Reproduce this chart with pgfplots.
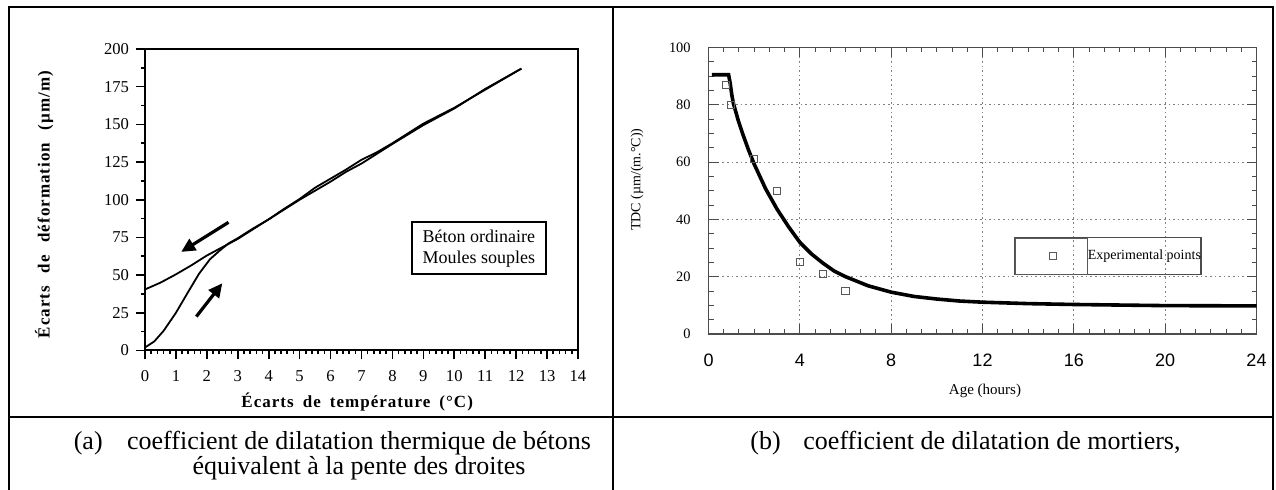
\documentclass[border=0pt]{standalone}
\usepackage{fontspec}
\setmainfont{Liberation Serif}
\setsansfont{Liberation Sans}
\newfontfamily\lblfont{Liberation Serif}[LetterSpace=6.0]
\usepackage{pgfplots}
\pgfplotsset{compat=1.18}
\usetikzlibrary{arrows.meta}

% heating / cooling branches (a)
\pgfplotstableread{
x y
0 2
0.3 6
0.6 13
1 25
1.4 39
1.75 51
2.1 60.5
2.4 66
2.7 71
3 74.5
3.5 81
4 87
4.5 93.5
5 100
5.5 106
6 112
6.5 118.5
7 124
7.5 130.5
8 137
9 149.5
10 160.5
11 173.5
12.17 187
}\heating
\pgfplotstableread{
x y
0 40.5
0.5 45
1 50.5
1.5 56.5
2 63
2.5 68.5
3 74
3.5 80.5
4 87
4.5 94
5 100.5
5.5 108
6 114
6.5 120
7 126.5
7.5 131.5
8 137.5
9 150.5
10 161
11 173
12.17 187
}\cooling
% model and measurements (b)
\pgfplotstableread{
x y
0.15 90.5
0.88 90.5
0.95 87.5
1.02 83.5
1.09 80.5
1.3 74.6
1.5 69.8
1.75 64.3
2 59.3
2.5 50.7
3 43.6
3.5 37.5
4 32
4.5 28
5 24.8
5.5 22
6 20
7 16.8
8 14.6
9 13.1
10 12.2
11 11.5
12 11.1
14 10.6
16 10.3
18 10.1
20 9.9
24 9.8
}\tdcmodel
\pgfplotstableread{
x y
0.75 87
1 80
2 61
3 50
4 25
5 21
6 15
}\tdcexp

\begin{document}
\begin{tikzpicture}
\path[use as bounding box] (0,0) rectangle (638pt,245pt);

% table frame
\draw[line width=1pt] (4.25pt,0) -- (4.25pt,241.35pt) -- (636.25pt,241.35pt) -- (636.25pt,0);
\draw[line width=1pt] (306.25pt,0) -- (306.25pt,241.35pt);
\draw[line width=1pt] (4.25pt,36.25pt) -- (636.25pt,36.25pt);

% (a)
\begin{axis}[
    at={(72.5pt,69.75pt)}, anchor=south west,
    scale only axis, width=216.5pt, height=150.75pt,
    xmin=0, xmax=14, ymin=0, ymax=200,
    xtick={0,1,...,14}, ytick={0,25,...,200},
    minor x tick num=4, minor y tick num=1,
    tick align=outside, xtick pos=bottom, ytick pos=left,
    major tick length=4.5pt, minor tick length=2pt,
    axis line style={line width=1pt},
    every tick/.style={black, line width=0.8pt},
    /pgf/number format/assume math mode=true,
    tick label style={font=\fontsize{8.3}{9}\selectfont},
    xticklabel style={yshift=-1.8pt},
    xlabel={\lblfont\bfseries\fontsize{8.5}{10}\selectfont Écarts\hspace{1.9pt} de\hspace{1.9pt} température\hspace{1.9pt} (°C)},
    ylabel={\lblfont\bfseries\fontsize{8.5}{10}\selectfont Écarts\hspace{3.7pt} de\hspace{3.7pt} déformation\hspace{3.7pt} (µm/m)},
    xlabel style={at={(axis description cs:0.49,-0.1725)}, anchor=center},
    ylabel style={at={(axis description cs:-0.233,0.484)}, anchor=center},
]
\addplot[black, line width=0.9pt] table {\heating};
\addplot[black, line width=0.9pt] table {\cooling};
\draw[line width=1.6pt, -{Triangle[length=7pt,width=6.5pt]}] (axis cs:2.7,85) -- (axis cs:1.17,65.4);
\draw[line width=1.6pt, -{Triangle[length=7pt,width=6.5pt]}] (axis cs:1.66,22.5) -- (axis cs:2.5,44.6);
\node[draw, line width=1pt, minimum width=67pt, minimum height=26pt, align=left,
      font=\fontsize{9}{10.5}\selectfont] at (axis description cs:0.771,0.339)
      {Béton ordinaire\\Moules souples};
\end{axis}

% (b)
\begin{axis}[
    at={(354.25pt,78pt)}, anchor=south west,
    scale only axis, width=274pt, height=143.25pt,
    xmin=0, xmax=24, ymin=0, ymax=100,
    xtick={0,4,...,24}, ytick={0,20,...,100},
    minor x tick num=5, minor y tick num=3,
    tick align=inside,
    major tick length=5pt, minor tick length=2.5pt,
    axis line style={gray!60!black, line width=0.6pt},
    every tick/.style={gray!60!black, line width=0.5pt},
    grid=major, major grid style={gray, line width=0.5pt, dash pattern=on 0.8pt off 1.5pt},
    /pgf/number format/assume math mode=true,
    xticklabel style={font=\sffamily\fontsize{9}{10}\selectfont, yshift=-6.5pt},
    yticklabel style={font=\fontsize{7.2}{8}\selectfont, xshift=-5.4pt},
    xlabel={\fontsize{7.5}{9}\selectfont Age (hours)},
    ylabel={\fontsize{7}{8}\selectfont TDC (µm/(m.°C))},
    xlabel style={at={(axis description cs:0.5046,-0.199)}, anchor=center},
    ylabel style={at={(axis description cs:-0.1305,0.539)}, anchor=center},
    legend style={at={(axis description cs:0.5575,0.3386)}, anchor=north west,
        draw=gray!60!black, fill=none, line width=0.6pt, inner sep=0pt,
        nodes={inner sep=0pt}, font=\fontsize{7}{8}\selectfont},
    legend image code/.code={
        \draw[#1] plot coordinates {(0pt,0pt)};
        \path (-19pt,-9pt) rectangle (17pt,9pt);
    },
]
\addplot[black, line width=1.8pt, forget plot] table {\tdcmodel};
\addplot[only marks, mark=square, mark size=1.8pt, gray!70!black, mark options={line width=0.5pt}] table {\tdcexp};
\addlegendentry{Experimental points\hspace{8pt}}
\end{axis}

% captions
\node[anchor=base west, inner sep=0pt, font=\fontsize{13}{13}\selectfont] at (36.7pt,20pt) {(a)};
\node[anchor=base, inner sep=0pt, font=\fontsize{13}{13}\selectfont] at (179.5pt,20pt) {coefficient de dilatation thermique de bétons};
\node[anchor=base, inner sep=0pt, font=\fontsize{13}{13}\selectfont] at (179.5pt,7.5pt) {équivalent à la pente des droites};
\node[anchor=base west, inner sep=0pt, font=\fontsize{13}{13}\selectfont] at (375pt,20pt) {(b)};
\node[anchor=base, inner sep=0pt, font=\fontsize{13}{13}\selectfont] at (496pt,20pt) {coefficient de dilatation de mortiers,};
\end{tikzpicture}
\end{document}
